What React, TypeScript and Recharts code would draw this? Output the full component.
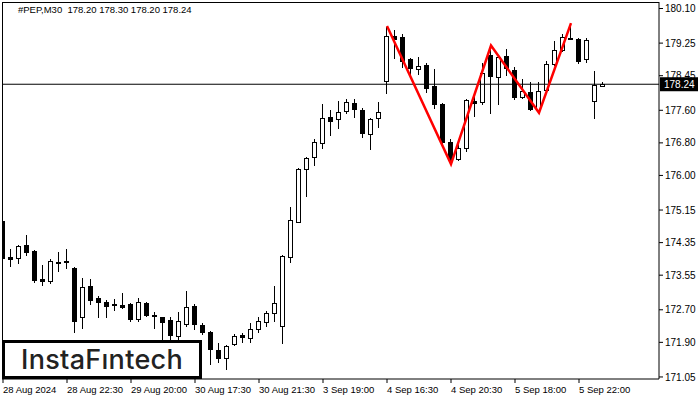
import React from 'react'
import { Bar, ComposedChart, Line, ReferenceLine, XAxis, YAxis } from 'recharts'

// 30-minute PEP candles
const opens = [
  174.88, 174.0, 173.97, 174.29, 174.15, 173.46, 173.41, 173.87, 173.9, 173.73,
  172.52, 173.28, 172.99, 172.89, 172.84, 172.82, 172.84, 172.47, 172.86, 172.56,
  172.52, 172.45, 172.06, 172.35, 172.79, 172.33, 172.16, 171.71, 171.52, 171.86,
  172.08, 172.01, 172.23, 172.4, 172.62, 172.3, 174.0, 174.86, 176.16, 176.45,
  176.8, 177.44, 177.39, 177.58, 177.78, 177.61, 177.02, 177.41, 178.32, 179.43,
  179.4, 178.86, 178.61, 178.71, 178.2, 177.75, 176.82, 176.4, 176.67, 177.83,
  177.8, 178.96, 178.42, 178.93, 178.59, 177.93, 178.05, 177.61, 178.1, 178.74,
  179.08, 179.36, 179.35, 178.86, 177.83, 178.2,
]
const highs = [
  174.93, 174.19, 174.29, 174.54, 174.17, 173.8, 173.95, 174.12, 174.19, 173.75,
  173.48, 173.46, 173.04, 172.94, 172.97, 173.11, 172.86, 172.99, 172.89, 172.65,
  172.53, 172.52, 172.65, 173.16, 172.84, 172.38, 172.18, 171.89, 171.84, 172.11,
  172.13, 172.38, 172.52, 172.67, 173.28, 174.04, 175.23, 176.18, 176.45, 176.9,
  177.75, 177.61, 177.83, 177.88, 177.88, 177.66, 177.41, 177.8, 179.65, 179.57,
  179.47, 178.88, 178.91, 178.76, 178.61, 177.78, 176.9, 176.77, 177.88, 177.98,
  178.76, 179.15, 178.93, 179.11, 178.66, 178.37, 178.3, 178.3, 178.81, 179.3,
  179.47, 179.67, 179.38, 179.38, 178.57, 178.3,
]
const lows = [
  173.87, 173.78, 173.85, 174.05, 173.38, 173.31, 173.36, 173.65, 173.73, 172.16,
  172.25, 172.84, 172.52, 172.52, 172.7, 172.75, 172.43, 172.43, 172.55, 172.25,
  171.98, 171.96, 171.91, 172.3, 172.23, 172.11, 171.37, 171.42, 171.25, 171.84,
  171.91, 171.91, 172.16, 172.3, 172.43, 171.89, 173.87, 174.86, 175.5, 176.26,
  176.67, 176.99, 177.17, 177.53, 177.44, 176.94, 176.65, 177.19, 178.02, 178.88,
  178.66, 178.49, 178.49, 178.05, 177.66, 176.75, 176.3, 176.38, 176.6, 177.46,
  177.75, 177.53, 177.75, 178.47, 177.88, 177.9, 177.61, 177.56, 178.07, 178.71,
  179.06, 179.35, 178.76, 178.79, 177.41, 178.2,
]
const closes = [
  173.97, 173.95, 174.27, 174.12, 173.43, 173.41, 173.9, 173.85, 173.87, 172.43,
  173.26, 172.94, 172.89, 172.79, 172.82, 172.78, 172.47, 172.89, 172.57, 172.54,
  172.4, 172.08, 172.43, 172.77, 172.35, 172.16, 171.74, 171.52, 171.81, 172.06,
  172.04, 172.23, 172.43, 172.62, 172.86, 174.02, 174.91, 176.16, 176.43, 176.82,
  177.41, 177.34, 177.56, 177.8, 177.63, 177.04, 177.39, 177.56, 179.43, 179.35,
  178.81, 178.64, 178.69, 178.15, 177.75, 176.82, 176.4, 176.67, 177.85, 177.78,
  178.52, 178.44, 178.91, 178.64, 177.93, 178.07, 177.63, 178.07, 178.74, 179.08,
  179.4, 179.38, 178.81, 179.33, 178.22, 178.24,
]

const timeTicks = [0, 8, 16, 24, 32, 40, 48, 56, 64, 72]
const timeLabels = [
  '28 Aug 2024', '28 Aug 22:30', '29 Aug 20:00', '30 Aug 17:30', '30 Aug 21:30',
  '3 Sep 19:00', '4 Sep 16:30', '4 Sep 20:30', '5 Sep 18:00', '5 Sep 22:00',
]
const priceTicks = [
  171.05, 171.9, 172.7, 173.55, 174.35, 175.15, 176.0, 176.8, 177.6, 178.45, 179.25, 180.1,
]

// double top pattern drawn in red
const patternIndex = [48, 56, 61, 67, 71]
const patternPrice = [179.67, 176.28, 179.19, 177.54, 179.74]

const lastPrice = 178.24
const header = '#PEP,M30  178.20 178.30 178.20 178.24'

const FONT = '"Liberation Sans", Arial, sans-serif'

const data = opens.map((open, i) => {
  const p = patternIndex.indexOf(i)
  return {
    i,
    open,
    high: highs[i],
    low: lows[i],
    close: closes[i],
    range: [lows[i], highs[i]],
    pattern: p >= 0 ? patternPrice[p] : null,
  }
})

function Candle(props: any) {
  const { x, y, width, height, payload } = props
  if (x == null || !payload) return null
  const { open, close, high, low } = payload
  const cx = Math.round(x + width / 2) - 0.5
  const k = height / (high - low)
  const yO = y + (high - open) * k
  const yC = y + (high - close) * k
  const top = Math.round(Math.min(yO, yC)) + 0.5
  const bot = Math.round(Math.max(yO, yC)) + 0.5
  const up = close >= open
  return (
    <g>
      <line x1={cx} x2={cx} y1={Math.round(y)} y2={Math.round(y + height) + 1} stroke="#000" />
      {bot - top < 1 ? (
        <line x1={cx - 2.5} x2={cx + 2.5} y1={top} y2={top} stroke="#000" strokeWidth={2} />
      ) : (
        <rect x={cx - 2} y={top} width={4} height={bot - top} fill={up ? '#fff' : '#000'} stroke="#000" />
      )}
    </g>
  )
}

function TimeTick({ x, y, payload }: any) {
  const label = timeLabels[timeTicks.indexOf(payload.value)]
  return (
    <text x={x} y={y} dy={8} textAnchor="start" fontSize={9.5} fontFamily={FONT} fill="#000">
      {label}
    </text>
  )
}

function PriceTag({ viewBox }: any) {
  if (!viewBox) return null
  const x = viewBox.x + viewBox.width + 1
  const y = viewBox.y
  return (
    <g>
      <rect x={x} y={y - 7} width={38} height={14} fill="#000" />
      <text x={x + 4} y={y + 4} fontSize={10} fontFamily={FONT} fill="#fff">
        {lastPrice.toFixed(2)}
      </text>
    </g>
  )
}

export default function App() {
  return (
    <div style={{ position: 'absolute', left: 0, top: 0, width: 700, height: 400, background: '#fff' }}>
      <ComposedChart
        width={700}
        height={400}
        data={data}
        margin={{ top: 2, right: 0, bottom: 0, left: 2 }}
      >
        <XAxis
          type="number"
          dataKey="i"
          domain={[-0.125, 82]}
          allowDataOverflow
          ticks={timeTicks}
          tick={<TimeTick />}
          tickSize={4}
          tickMargin={2}
          height={21}
          axisLine={{ stroke: '#000' }}
          tickLine={{ stroke: '#000' }}
          interval={0}
        />
        <YAxis
          orientation="right"
          domain={[171.0, 180.26]}
          allowDataOverflow
          ticks={priceTicks}
          tickFormatter={(v: number) => v.toFixed(2)}
          width={41}
          tickSize={4}
          tickMargin={2}
          interval={0}
          axisLine={{ stroke: '#000' }}
          tickLine={{ stroke: '#000' }}
          tick={{ fill: '#000', fontSize: 10, fontFamily: FONT }}
        />
        <ReferenceLine y={lastPrice} stroke="#000" strokeWidth={1} label={<PriceTag />} />
        <Bar dataKey="range" barSize={5} shape={<Candle />} isAnimationActive={false} />
        <Line
          dataKey="pattern"
          type="linear"
          stroke="#ff0000"
          strokeWidth={2.5}
          dot={false}
          connectNulls
          isAnimationActive={false}
        />
      </ComposedChart>
      <div
        style={{
          position: 'absolute',
          left: 2,
          top: 2,
          width: 657,
          height: 377,
          borderTop: '1px solid #000',
          borderLeft: '1px solid #000',
          boxSizing: 'border-box',
          pointerEvents: 'none',
        }}
      />
      <div
        style={{
          position: 'absolute',
          left: 18,
          top: 4,
          fontFamily: FONT,
          fontSize: 9.5,
          color: '#000',
          whiteSpace: 'pre',
        }}
      >
        {header}
      </div>
      <div
        style={{
          position: 'absolute',
          left: 2,
          top: 340,
          width: 200,
          height: 39,
          boxSizing: 'border-box',
          border: '3px solid #000',
          background: '#fff',
          display: 'flex',
          alignItems: 'center',
          justifyContent: 'center',
          fontFamily: 'Inter, "Open Sans", sans-serif',
          fontWeight: 500,
          fontSize: 27,
          color: '#222',
          letterSpacing: 0.3,
        }}
      >
        InstaFıntech
      </div>
    </div>
  )
}
